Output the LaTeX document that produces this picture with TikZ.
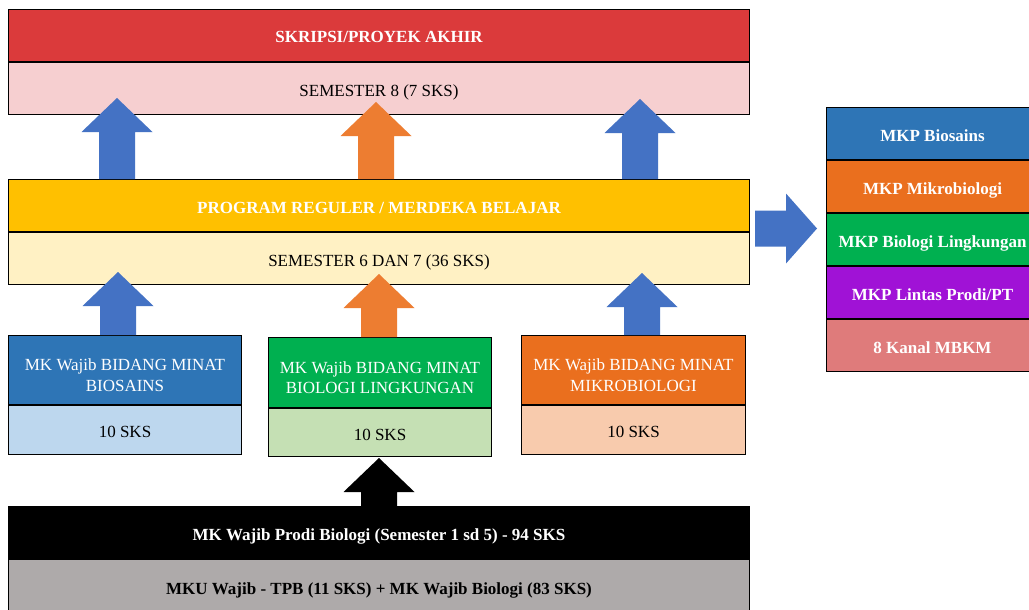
\documentclass[tikz,border=0pt]{standalone}
\usepackage{fontspec}
\setmainfont{Liberation Serif}
\usetikzlibrary{calc}
\definecolor{skred}{HTML}{DB3A3B}
\definecolor{skpink}{HTML}{F6CFD0}
\definecolor{regyel}{HTML}{FFC000}
\definecolor{reglight}{HTML}{FFF1C4}
\definecolor{bsblue}{HTML}{2E75B6}
\definecolor{bslight}{HTML}{BDD7EE}
\definecolor{blgreen}{HTML}{00B050}
\definecolor{bllight}{HTML}{C5E0B4}
\definecolor{mborange}{HTML}{EA6F1E}
\definecolor{mblight}{HTML}{F8CBAD}
\definecolor{lpurple}{HTML}{A012D6}
\definecolor{kanal}{HTML}{DF7B7B}
\definecolor{mkugrey}{HTML}{AEAAAA}
\definecolor{arrblue}{HTML}{4472C4}
\definecolor{arrorange}{HTML}{ED7D31}
\newcommand{\boxfont}{\fontsize{17}{20.5}\selectfont}
% block arrow pointing up: colour, base point, length
\newcommand{\blkup}[3]{%
  \fill[#1,shift={#2}] (-18,0) -- (-18,{-(#3-34)}) -- (-35.5,{-(#3-34)}) -- (0,-#3)
    -- (35.5,{-(#3-34)}) -- (18,{-(#3-34)}) -- (18,0) -- cycle;}
\tikzset{
  blk/.style={draw=black,line width=1pt,inner sep=0,anchor=north west,align=center,font=\boxfont,
    text height=17pt,text depth=2pt},
  two/.style={text=white,text height=44pt,text depth=2pt},
  hd/.style={blk,text=white,font=\boxfont\bfseries},
  mkp/.style={hd,minimum width=212,minimum height=52},
}
\begin{document}
\begin{tikzpicture}[x=1pt,y=-1pt]
\useasboundingbox[fill=white] (0,0) rectangle (1029,610);
% semester 8
\node[hd,fill=skred,minimum width=741,minimum height=52] (skripsi) at (8,9) {SKRIPSI/PROYEK AKHIR};
\node[blk,fill=skpink,minimum width=741,minimum height=52] (sem8) at (skripsi.south west) {SEMESTER 8 (7 SKS)};
% semester 6 dan 7
\node[hd,fill=regyel,minimum width=741,minimum height=52] (reguler) at (8,179) {PROGRAM REGULER / MERDEKA BELAJAR};
\node[blk,fill=reglight,minimum width=741,minimum height=52] (sem67) at (reguler.south west) {SEMESTER 6 DAN 7 (36 SKS)};
% bidang minat
\node[blk,two,fill=bsblue,minimum width=233,minimum height=69] (bshead) at (8,335) {MK Wajib BIDANG MINAT\\BIOSAINS};
\node[blk,fill=bslight,minimum width=233,minimum height=49] (bssks) at (bshead.south west) {10 SKS};
\node[blk,two,fill=blgreen,minimum width=223,minimum height=70] (blhead) at (268,337) {MK Wajib BIDANG MINAT\\BIOLOGI LINGKUNGAN};
\node[blk,fill=bllight,minimum width=223,minimum height=48] (blsks) at (blhead.south west) {10 SKS};
\node[blk,two,fill=mborange,minimum width=224,minimum height=69] (mbhead) at (521,335) {MK Wajib BIDANG MINAT\\MIKROBIOLOGI};
\node[blk,fill=mblight,minimum width=224,minimum height=49] (mbsks) at (mbhead.south west) {10 SKS};
% semester 1 sd 5
\node[hd,fill=black,minimum width=741,minimum height=52] (prodi) at (8,506) {MK Wajib Prodi Biologi (Semester 1 sd 5) - 94 SKS};
\node[blk,fill=mkugrey,font=\boxfont\bfseries,minimum width=741,minimum height=54] (mku) at (prodi.south west) {MKU Wajib - TPB (11 SKS) + MK Wajib Biologi (83 SKS)};
% pilihan
\node[mkp,fill=bsblue] (mkpbs) at (826,107) {MKP Biosains};
\node[mkp,fill=mborange] (mkpmb) at (mkpbs.south west) {MKP Mikrobiologi};
\node[mkp,fill=blgreen] (mkpbl) at (mkpmb.south west) {MKP Biologi Lingkungan};
\node[mkp,fill=lpurple] (mkplp) at (mkpbl.south west) {MKP Lintas Prodi/PT};
\node[mkp,fill=kanal] (mbkm) at (mkplp.south west) {8 Kanal MBKM};
% arrows
\blkup{arrblue}{(117,0 |- reguler.north)}{81}
\blkup{arrorange}{(376,0 |- reguler.north)}{77}
\blkup{arrblue}{(640,0 |- reguler.north)}{80}
\blkup{arrblue}{(118,0 |- bshead.north)}{63}
\blkup{arrorange}{(379,0 |- blhead.north)}{63}
\blkup{arrblue}{(642,0 |- mbhead.north)}{62}
\blkup{black}{(379,0 |- prodi.north)}{48}
\fill[arrblue,shift={($(sem67.north east)+(5,-3.5)$)}] (0,-18) -- (31,-18) -- (31,-35) -- (62,0)
  -- (31,35) -- (31,18) -- (0,18) -- cycle;
\end{tikzpicture}
\end{document}
